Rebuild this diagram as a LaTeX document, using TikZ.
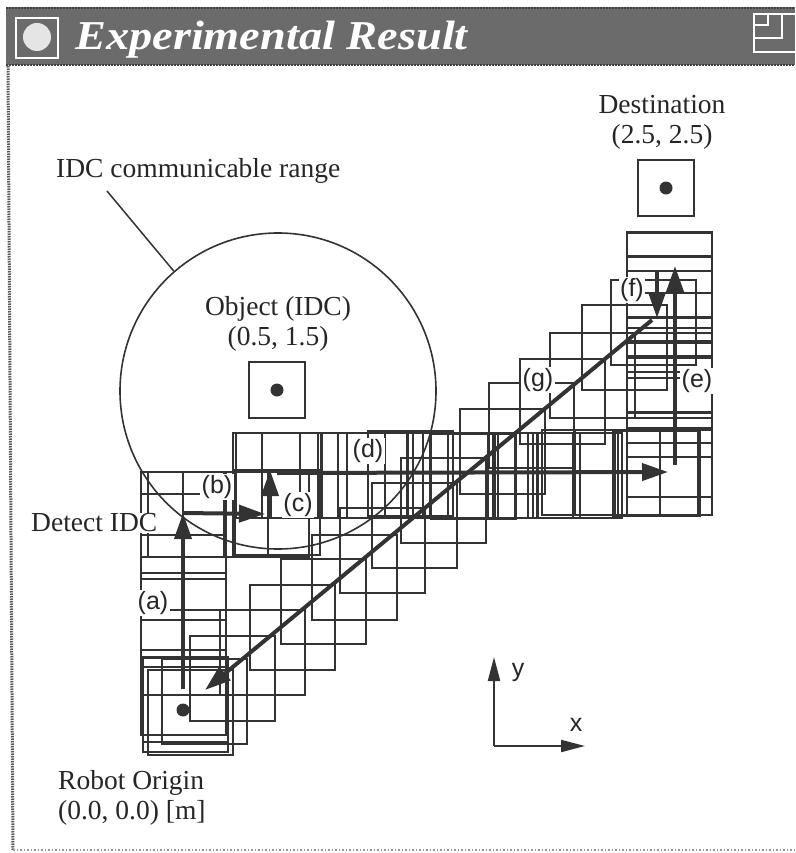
\documentclass[tikz,border=0pt]{standalone}
\usepackage{fontspec}
\setmainfont{Liberation Serif}
\newfontfamily\lab{Liberation Sans}
\usetikzlibrary{arrows.meta}
\definecolor{ink}{gray}{0.2}
\definecolor{barcol}{gray}{0.42}
\tikzset{
  cell/.style={draw=ink,line width=1.2pt},
  bigarrow/.style={draw=ink,line width=4pt,-{Triangle[length=26pt,width=17pt]}},
  thinarrow/.style={draw=ink,line width=2pt,-{Triangle[length=24pt,width=12pt]}},
  caption/.style={font=\fontsize{27.5}{30}\selectfont,text=black!85,inner sep=0pt},
  tag/.style={font=\lab\fontsize{25}{28}\selectfont,fill=white,inner sep=1.5pt,text=black!85},
  axislabel/.style={font=\lab\fontsize{25}{28}\selectfont,inner sep=0pt,text=black!85},
  box/.style={draw=ink,line width=1.4pt},
  dot/.style={fill=ink,draw=none,circle,minimum size=13pt,inner sep=0pt},
  iconline/.style={draw=white,line width=1.6pt},
}
\begin{document}
\begin{tikzpicture}[x=1pt,y=-1pt]
\useasboundingbox (0,0) rectangle (795,853);
\fill[white] (0,0) rectangle (795,853);
% window frame
\fill[barcol] (6,7) rectangle (795,65);
\draw[black!75,line width=2.5pt,dash pattern=on 1.5pt off 1.5pt] (6,8) -- (795,8);
\draw[black!75,line width=2.5pt,dash pattern=on 1.5pt off 1.5pt] (6,65) -- (795,65);
\draw[black!65,line width=3pt,dash pattern=on 1.5pt off 1pt] (8,66) -- (13,850);
\draw[black!40,line width=1.5pt,dash pattern=on 1.5pt off 2pt] (13,850) -- (795,850);
% title bar
\draw[iconline] (16,18) rectangle (58,58);
\fill[gray!20] (37,37) circle (14);
\node[name=title,anchor=west,text=white,inner sep=0pt,font=\bfseries\itshape\fontsize{41}{46}\selectfont] at (75,40) {\scalebox{1.13}[1]{Experimental Result}};
\draw[iconline] (795,52) -- (754,52) -- (754,14) -- (795,14);
\draw[iconline] (754,25) -- (768,25) -- (768,14);
\draw[iconline] (782,14) -- (782,38) -- (754,38);
% grid cells: start cluster and leg (a)
\foreach \cx/\cy in {141/472,148/472,183/472,224/472,235/470,141/494,141/535,141/573,141/610,141/650,143/657,143/667,148/670,162/659}
  \draw[cell] (\cx,\cy) rectangle ++(85,85);
% leg (c), (d)
\foreach \cx/\cy in {233/433,236/433,262/433,300/433,322/433,338/433,368/431,408/433,413/433,430/433,448/433,453/433,488/433,495/433,528/433,533/433,537/433,542/430,575/430,613/430,615/431,627/430}
  \draw[cell] (\cx,\cy) rectangle ++(85,85);
% leg (e), (f)
\foreach \cy in {232,233,256,257,271,293,328,333,343,358,372,412}
  \draw[cell] (627,\cy) rectangle ++(85,85);
% leg (g)
\foreach \cx/\cy in {190/636,220/610,250/585,281/559,312/535,340/508,372/483,401/458,431/434,460/409,489/383,520/359,550/333,582/305,611/280}
  \draw[cell] (\cx,\cy) rectangle ++(85,85);
% communicable range
\node[name=range,draw=ink,line width=1.6pt,circle,minimum size=316pt,inner sep=0pt] at (278,391) {};
\coordinate (rangeTick) at (107,191);
\draw[ink,line width=1.5pt] (rangeTick) -- (range.131);
% object and destination boxes
\node[name=object,box,minimum size=56pt,inner sep=0pt] at (277,390) {};
\node[dot] at (object.center) {};
\node[name=dest,box,minimum size=56pt,inner sep=0pt] at (666,188) {};
\node[dot] at (dest.center) {};
\node[name=origin,dot] at (183,710) {};
% path
\coordinate (a0) at (183,689);
\coordinate (a1) at (183,513);
\coordinate (b0) at (183,513);
\coordinate (b1) at (265,514);
\coordinate (c0) at (270,518);
\coordinate (c1) at (270,470);
\coordinate (d0) at (277,473);
\coordinate (d1) at (668,472);
\coordinate (e0) at (675,465);
\coordinate (e1) at (675,266);
\coordinate (f0) at (657,271);
\coordinate (f1) at (657,318);
\coordinate (g0) at (652,320);
\coordinate (g1) at (205,690);
\draw[bigarrow] (a0) -- (a1);
\draw[bigarrow] (b0) -- (b1);
\draw[bigarrow] (c0) -- (c1);
\draw[bigarrow] (d0) -- (d1);
\draw[bigarrow] (e0) -- (e1);
\draw[bigarrow] (f0) -- (f1);
\draw[bigarrow] (g0) -- (g1);
% labels
\node[name=la,tag] at (153,603) {(a)};
\node[name=lb,tag] at (217,487) {(b)};
\node[name=lc,tag] at (298,505) {(c)};
\node[name=ld,tag] at (368,451) {(d)};
\node[name=le,tag] at (697,381) {(e)};
\node[name=lf,tag] at (632,290) {(f)};
\node[name=lg,tag] at (538,380) {(g)};
\node[name=cdest,caption,align=center] at (662,122) {Destination\\(2.5, 2.5)};
\node[name=cobj,caption,align=center] at (278,324) {Object (IDC)\\(0.5, 1.5)};
\node[name=crange,caption,anchor=west] at (56,171) {IDC communicable range};
\node[name=cdet,caption,anchor=west,fill=white,inner sep=1pt] at (30,523) {Detect IDC};
\node[name=corig,caption,align=left,anchor=north west] at (58,770) {Robot Origin\\(0.0, 0.0) [m]};
% axes
\coordinate (axo) at (494,746);
\coordinate (axy) at (494,657);
\coordinate (axx) at (585,746);
\draw[thinarrow] (axo) -- (axy);
\draw[thinarrow] (axo) -- (axx);
\node[name=ly,axislabel] at (518,672) {y};
\node[name=lx,axislabel] at (576,725) {x};
\end{tikzpicture}
\end{document}
